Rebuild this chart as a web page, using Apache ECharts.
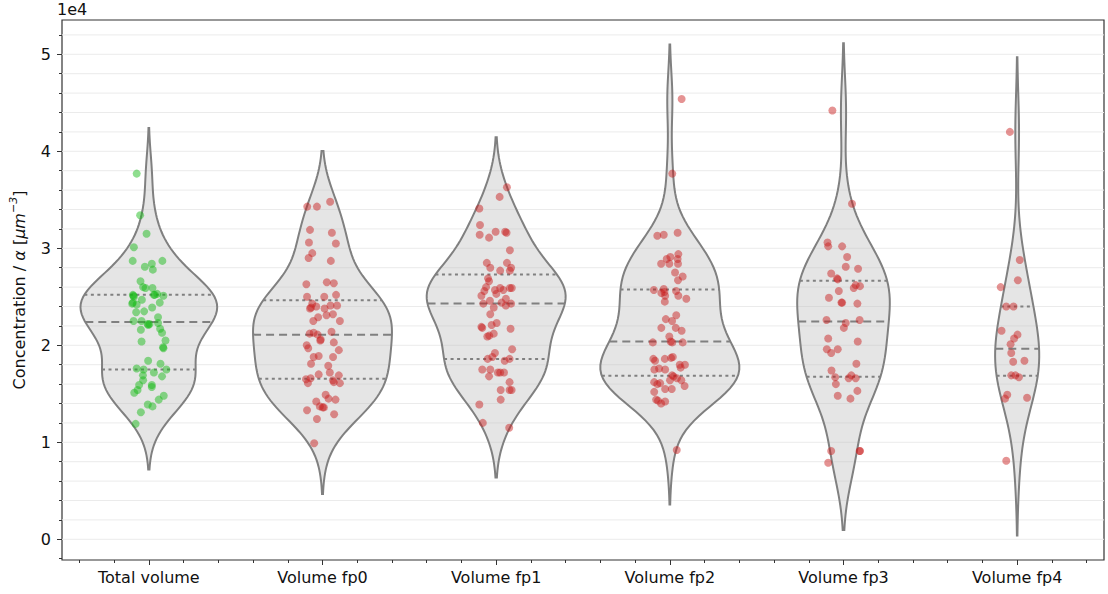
<!DOCTYPE html>
<html>
<head>
<meta charset="utf-8">
<script src="https://cdn.jsdelivr.net/npm/echarts@6/dist/echarts.min.js"></script>
<style>
  html, body { margin: 0; padding: 0; background: #ffffff; }
  #chart { width: 1108px; height: 594px; }
</style>
</head>
<body>
<div id="chart"></div>
<script>
// Groups along the horizontal axis
const categories = ['Total volume', 'Volume fp0', 'Volume fp1', 'Volume fp2', 'Volume fp3', 'Volume fp4'];

// Measured concentrations (per µm^3, scaled by alpha), one array per group,
// with the horizontal strip-plot jitter of each point (in category units)
const totalValues = [37700, 33400, 31500, 30100, 28700, 28700, 28100, 28400, 27800, 26600, 26000, 25900, 25900,
  25200, 25000, 25200, 25300, 25100, 24700, 24300, 24200, 24400, 23900, 23400, 23500, 22900, 22500, 22500, 22200,
  22200, 22300, 21600, 21700, 21300, 20400, 20500, 19800, 18400, 18100, 17600, 17500, 17500, 16900, 17200, 16800,
  16400, 15900, 15900, 15700, 15400, 15100, 14800, 14400, 13900, 13700, 13100, 11900, 25100, 25200, 24400, 22100, 19700];
const totalJitter = [-0.070, -0.050, -0.013, -0.086, -0.093, 0.078, -0.023, 0.017, 0.023, -0.048, -0.033, 0.021, -0.019,
  -0.092, -0.086, 0.029, 0.048, 0.084, -0.040, -0.096, -0.070, 0.063, 0.019, -0.073, -0.027, 0.053, -0.088, -0.042, -0.007,
  0.004, 0.053, -0.046, 0.065, 0.076, -0.042, 0.096, 0.082, -0.004, 0.067, -0.070, -0.030, 0.101, -0.034, 0.029, 0.076,
  -0.033, -0.056, 0.017, 0.017, -0.065, -0.084, 0.086, 0.057, -0.006, 0.021, -0.046, -0.076, -0.089, 0.034, -0.092, -0.003, 0.084];

const fp0Values = [34300, 34300, 34800, 31900, 31600, 30600, 30500, 29500, 29000, 28700, 26300, 26500, 26400,
  25000, 25000, 25200, 24300, 23800, 24000, 23800, 24100, 24100, 23100, 23200, 22900, 22500, 22500, 21200, 21300,
  21100, 20500, 21400, 20300, 20000, 19700, 19500, 18900, 18800, 18800, 18100, 17900, 17200, 16900, 17000, 16500,
  16600, 16100, 16400, 16200, 16100, 14900, 14500, 14400, 14200, 13700, 13600, 13300, 12900, 12400, 9900,
  23900, 20600, 13600];
const fp0Jitter = [-0.088, -0.032, 0.044, -0.072, 0.054, -0.078, 0.077, -0.059, -0.080, 0.048, -0.093, 0.025, 0.065,
  -0.089, 0.010, 0.078, -0.059, -0.072, -0.036, 0.012, 0.046, 0.084, 0.023, 0.060, -0.025, -0.053, 0.100, -0.074, -0.051,
  -0.028, -0.013, 0.052, 0.065, -0.091, -0.082, 0.094, -0.022, -0.051, 0.061, -0.066, 0.033, 0.042, 0.094, -0.022, -0.095,
  -0.068, -0.084, 0.060, 0.065, 0.100, 0.018, 0.035, 0.075, -0.036, -0.015, 0.001, -0.089, 0.067, -0.032, -0.048,
  -0.066, -0.010, 0.008];

const fp1Values = [36300, 35300, 34100, 32400, 31400, 31100, 31700, 31700, 31600, 29800, 28500, 28000, 27700,
  28500, 28000, 27700, 26900, 26600, 26000, 25700, 25900, 25700, 25900, 25900, 25600, 25100, 25300, 24600, 24400,
  24800, 24100, 24300, 24300, 23900, 23200, 22300, 22100, 21900, 21800, 21700, 21200, 20900, 21000, 19600, 19200,
  18800, 18600, 18400, 18600, 17500, 17500, 16800, 17200, 17200, 17200, 16200, 15400, 15400, 15400, 14400, 13900,
  12000, 11500];
const fp1Jitter = [0.062, 0.020, -0.097, -0.093, -0.095, -0.041, -0.003, 0.052, 0.060, 0.079, -0.054, -0.034, 0.023,
  0.062, 0.086, 0.079, -0.047, -0.041, -0.058, -0.007, 0.023, 0.041, 0.079, 0.090, -0.068, -0.085, 0.001, -0.036, 0.031,
  0.056, 0.056, 0.086, -0.074, -0.014, -0.034, 0.003, -0.026, -0.085, -0.080, 0.083, -0.014, -0.051, -0.040, 0.092, -0.007,
  -0.022, -0.049, 0.049, 0.077, -0.080, -0.034, -0.041, 0.010, 0.023, 0.045, 0.077, 0.026, 0.077, 0.089, 0.026, -0.097,
  -0.077, 0.075];

const fp2Values = [45400, 37700, 31300, 31400, 31600, 29400, 29100, 28900, 28900, 28400, 28400, 28400, 27500,
  27100, 26700, 25700, 25800, 25500, 25400, 25100, 25600, 25100, 24500, 24800, 23100, 22700, 22500, 21800, 21800,
  21500, 20900, 20300, 20400, 20300, 20300, 18600, 18400, 18600, 18700, 18800, 18000, 18000, 17700, 17500, 17600,
  17500, 16900, 16800, 16400, 16600, 16400, 16200, 16000, 16100, 15800, 15500, 15500, 15200, 14400, 14300, 14000,
  14200, 9200];
const fp2Jitter = [0.068, 0.014, -0.072, -0.035, 0.045, 0.049, 0.003, -0.018, 0.045, -0.050, -0.003, 0.047, 0.030,
  0.074, 0.047, -0.092, -0.035, -0.031, -0.049, -0.027, 0.036, 0.049, -0.029, 0.095, 0.037, -0.023, 0.013, -0.049, 0.034,
  0.068, -0.003, -0.098, 0.005, 0.014, 0.074, -0.095, -0.085, -0.029, 0.007, 0.017, 0.057, 0.087, 0.062, -0.089, -0.062,
  -0.027, 0.013, 0.022, 0.001, 0.041, 0.066, -0.090, -0.072, -0.056, 0.085, -0.027, 0.011, -0.090, -0.079, -0.068, -0.050,
  -0.027, 0.040];

const fp3Values = [44200, 34600, 30600, 30200, 30200, 29100, 28100, 27900, 27400, 26900, 26800, 25900, 26200,
  26100, 25600, 24900, 24400, 24400, 24300, 22600, 22600, 22300, 21800, 20700, 20400, 19600, 19600, 19200, 18100,
  17400, 16700, 16600, 16900, 16600, 16000, 15300, 14800, 14500, 9100, 9100, 7900, 9100];
const fp3Jitter = [-0.064, 0.049, -0.092, -0.088, -0.008, 0.021, 0.013, 0.084, -0.071, -0.037, -0.033, 0.059, 0.070,
  0.095, -0.027, -0.084, -0.012, -0.008, 0.080, -0.098, 0.093, 0.013, 0.002, -0.088, 0.082, -0.096, -0.033, -0.071, 0.074,
  -0.069, -0.048, 0.030, 0.045, 0.070, -0.044, 0.080, -0.033, 0.040, -0.071, 0.093, -0.088, 0.095];

const fp4Values = [42000, 28800, 26700, 26000, 24000, 24000, 21500, 21100, 20700, 20100, 19200, 18400, 18300,
  16900, 16900, 16700, 14900, 14500, 14600, 8100];
const fp4Jitter = [-0.042, 0.015, 0.004, -0.095, -0.063, -0.021, -0.090, 0.002, -0.018, -0.038, -0.034, 0.042, -0.023,
  -0.034, -0.010, 0.010, -0.057, -0.070, 0.057, -0.063];

const groupValues = [totalValues, fp0Values, fp1Values, fp2Values, fp3Values, fp4Values];
const groupJitter = [totalJitter, fp0Jitter, fp1Jitter, fp2Jitter, fp3Jitter, fp4Jitter];

// Axis ticks
const yMajorTicks = [0, 10000, 20000, 30000, 40000, 50000];
const yMinorTicks = [-2000, 2000, 4000, 6000, 8000, 12000, 14000, 16000, 18000, 22000, 24000, 26000, 28000,
  32000, 34000, 36000, 38000, 42000, 44000, 46000, 48000, 52000];
const yGridLines = [0, 2000, 4000, 6000, 8000, 10000, 12000, 14000, 16000, 18000, 20000, 22000, 24000, 26000,
  28000, 30000, 32000, 34000, 36000, 38000, 40000, 42000, 44000, 46000, 48000, 50000, 52000];
const xMajorTicks = [0, 1, 2, 3, 4, 5];
const xMinorTicks = [-0.4, -0.2, 0.2, 0.4, 0.6, 0.8, 1.2, 1.4, 1.6, 1.8, 2.2, 2.4, 2.6, 2.8,
  3.2, 3.4, 3.6, 3.8, 4.2, 4.4, 4.6, 4.8, 5.2, 5.4];

const FONT = 'DejaVu Sans';
const AXIS_COLOR = '#333333';
const VIOLIN_HALF_WIDTH = 0.4;

// Gaussian kernel density estimate (Scott bandwidth), support cut at 2 bandwidths
function kde(vals) {
  const n = vals.length;
  const mean = vals.reduce((a, b) => a + b, 0) / n;
  const sd = Math.sqrt(vals.reduce((a, v) => a + (v - mean) * (v - mean), 0) / (n - 1));
  const bw = sd * Math.pow(n, -0.2);
  const lo = Math.min(...vals) - 2 * bw;
  const hi = Math.max(...vals) + 2 * bw;
  const ys = [], ds = [];
  const gridSize = 100;
  for (let k = 0; k < gridSize; k++) {
    const y = lo + (hi - lo) * k / (gridSize - 1);
    let s = 0;
    for (const v of vals) { const z = (y - v) / bw; s += Math.exp(-0.5 * z * z); }
    ys.push(y);
    ds.push(s / (n * bw * Math.sqrt(2 * Math.PI)));
  }
  return { ys, ds };
}

function quantile(vals, p) {
  const s = vals.slice().sort((a, b) => a - b);
  const pos = (s.length - 1) * p;
  const lo = Math.floor(pos), hi = Math.ceil(pos);
  return s[lo] + (s[hi] - s[lo]) * (pos - lo);
}

// Violin widths scale with the number of observations in each group
const maxCount = Math.max(...groupValues.map(v => v.length));
const shapes = groupValues.map(vals => {
  const { ys, ds } = kde(vals);
  const dmax = Math.max(...ds);
  const scale = VIOLIN_HALF_WIDTH * (vals.length / maxCount) / dmax;
  const ws = ds.map(d => d * scale);
  const widthAt = y => {
    for (let k = 1; k < ys.length; k++) {
      if (y <= ys[k]) {
        const t = (y - ys[k - 1]) / (ys[k] - ys[k - 1]);
        return ws[k - 1] + (ws[k] - ws[k - 1]) * t;
      }
    }
    return ws[ws.length - 1];
  };
  const quartiles = [0.25, 0.5, 0.75].map(p => {
    const q = quantile(vals, p);
    return { q, w: widthAt(q), median: p === 0.5 };
  });
  return { ys, ws, quartiles };
});

// Horizontal grid lines, drawn beneath the violins
function renderGrid(params, api) {
  const v = api.value(0);
  const a = api.coord([-0.5, v]);
  const b = api.coord([5.5, v]);
  return {
    type: 'line',
    shape: { x1: a[0], y1: a[1], x2: b[0], y2: b[1] },
    style: { stroke: '#ebebeb', lineWidth: 1 }
  };
}

function renderViolin(params, api) {
  const i = api.value(0);
  const s = shapes[i];
  const right = [], left = [];
  for (let k = 0; k < s.ys.length; k++) {
    right.push(api.coord([i + s.ws[k], s.ys[k]]));
    left.push(api.coord([i - s.ws[k], s.ys[k]]));
  }
  const children = [{
    type: 'polygon',
    shape: { points: right.concat(left.reverse()) },
    style: { fill: 'rgba(190,190,190,0.4)', stroke: '#808080', lineWidth: 2 }
  }];
  s.quartiles.forEach(qt => {
    const a = api.coord([i - qt.w, qt.q]);
    const b = api.coord([i + qt.w, qt.q]);
    children.push({
      type: 'line',
      shape: { x1: a[0], y1: a[1], x2: b[0], y2: b[1] },
      style: { stroke: '#808080', lineWidth: 2, lineDash: qt.median ? [8, 5] : [3, 3.5] }
    });
  });
  return { type: 'group', children };
}

const scatterSeries = groupValues.map((vals, i) => ({
  type: 'scatter',
  xAxisIndex: 0,
  yAxisIndex: 0,
  symbolSize: 8,
  z: 3,
  silent: true,
  itemStyle: { color: i === 0 ? 'rgba(20,185,20,0.6)' : 'rgba(200,30,30,0.6)' },
  data: vals.map((v, k) => [i + groupJitter[i][k], v])
}));

const hiddenLine = { show: false, onZero: false };

const chart = echarts.init(document.getElementById('chart'), null, { renderer: 'svg' });
chart.setOption({
  animation: false,
  backgroundColor: '#ffffff',
  textStyle: { fontFamily: FONT },
  grid: { left: 56, right: 4, top: 20, bottom: 34, show: true, borderColor: AXIS_COLOR, borderWidth: 1.2, backgroundColor: 'transparent' },
  graphic: [{
    type: 'text', left: 57, top: 1,
    style: { text: '1e4', fontSize: 16, fontFamily: FONT, fill: '#111' }
  }],
  xAxis: [{
    type: 'value', min: -0.5, max: 5.5, position: 'bottom',
    axisLine: hiddenLine, splitLine: { show: false },
    axisTick: { show: true, customValues: xMajorTicks, length: 5, lineStyle: { color: AXIS_COLOR, width: 1 } },
    axisLabel: { customValues: xMajorTicks, formatter: v => categories[Math.round(v)], fontSize: 16, color: '#111', margin: 9, fontFamily: FONT }
  }, {
    type: 'value', min: -0.5, max: 5.5, position: 'bottom',
    axisLine: hiddenLine, splitLine: { show: false }, axisLabel: { show: false },
    axisTick: { show: true, customValues: xMinorTicks, length: 3, lineStyle: { color: AXIS_COLOR, width: 1 } }
  }],
  yAxis: [{
    type: 'value', min: -2134, max: 53536, position: 'left',
    axisLine: hiddenLine, splitLine: { show: false },
    axisTick: { show: true, customValues: yMajorTicks, length: 5, lineStyle: { color: AXIS_COLOR, width: 1 } },
    axisLabel: { customValues: yMajorTicks, formatter: v => String(v / 10000), fontSize: 16, color: '#111', margin: 11, fontFamily: FONT },
    name: '{n|Concentration / }{i|α}{n| [}{i|μm}{s|−3}{n|]}',
    nameLocation: 'middle', nameRotate: 90, nameGap: 32,
    nameTextStyle: {
      fontFamily: FONT, fontSize: 16, color: '#111',
      rich: {
        n: { fontFamily: FONT, fontSize: 16, color: '#111', lineHeight: 22 },
        i: { fontFamily: FONT, fontSize: 16, fontStyle: 'italic', color: '#111', lineHeight: 22 },
        s: { fontFamily: FONT, fontSize: 11, fontStyle: 'italic', color: '#111', lineHeight: 22, verticalAlign: 'top', padding: [0, 0, 10, 0] }
      }
    }
  }, {
    type: 'value', min: -2134, max: 53536, position: 'left',
    axisLine: hiddenLine, splitLine: { show: false }, axisLabel: { show: false },
    axisTick: { show: true, customValues: yMinorTicks, length: 3, lineStyle: { color: AXIS_COLOR, width: 1 } }
  }],
  series: [{
    type: 'custom', xAxisIndex: 0, yAxisIndex: 0, z: 0, silent: true,
    renderItem: renderGrid,
    data: yGridLines.map(v => [v])
  }, {
    type: 'custom', xAxisIndex: 0, yAxisIndex: 0, z: 1, silent: true,
    renderItem: renderViolin,
    data: categories.map((c, i) => [i])
  }].concat(scatterSeries)
});
</script>
</body>
</html>
